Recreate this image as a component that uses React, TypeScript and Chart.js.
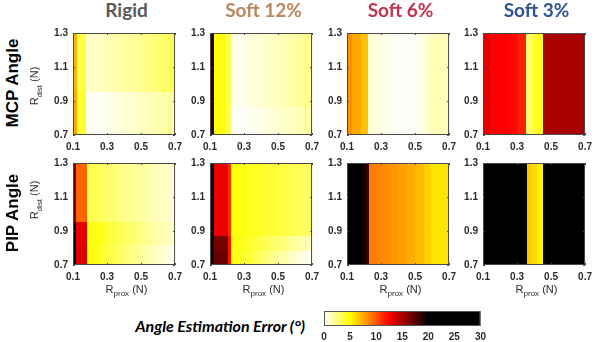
import React, { useEffect, useRef } from "react";
import { Chart, registerables } from "chart.js";

Chart.register(...registerables);

// ---------------- DATA ----------------
const panelTitles = ["Rigid", "Soft 12%", "Soft 6%", "Soft 3%"];
const titleColors = ["#595959", "#b8875b", "#c1334f", "#2f5597"];
const rowLabels = ["MCP Angle", "PIP Angle"];
const xTickValues = [0.1, 0.3, 0.5, 0.7];
const yTickValues = [0.7, 0.9, 1.1, 1.3];
const colorbarTicks = [0, 5, 10, 15, 20, 25, 30];

// Column edges (R_prox, N), row edges (R_dist, N), error values (deg) per cell [row][col]
const rigidMcpX = [0.1, 0.121, 0.178, 0.25, 0.3, 0.35, 0.4, 0.45, 0.5, 0.55, 0.6, 0.65, 0.7];
const rigidMcpY = [0.7, 0.955, 1.3];
const rigidMcpZ = [
  [7.5, 4.1, 0.1, 0.3, 0.5, 0.7, 0.9, 1.1, 1.3, 1.5, 1.7, 1.9],
  [7.2, 3.6, 1.1, 1.3, 1.5, 1.7, 1.9, 2.1, 2.3, 2.6, 2.9, 3.2],
];

const soft12McpX = [0.1, 0.121, 0.19, 0.222, 0.25, 0.3, 0.35, 0.4, 0.45, 0.5, 0.55, 0.6, 0.65, 0.7];
const soft12McpY = [0.7, 0.866, 1.3];
const soft12McpZ = [
  [18.5, 4.8, 3.6, 0.0, 0.1, 0.2, 0.4, 0.6, 0.8, 1.0, 1.2, 1.5, 1.8],
  [18.5, 4.8, 3.6, 0.3, 0.4, 0.6, 0.8, 1.0, 1.2, 1.4, 1.7, 1.9, 2.3],
];

const soft6McpX = [0.1, 0.13, 0.18, 0.222, 0.25, 0.3, 0.35, 0.4, 0.45, 0.5, 0.55, 0.583, 0.7];
const soft6McpY = [0.7, 1.3];
const soft6McpZ = [[8.3, 7.6, 6.8, 0.8, 0.6, 0.4, 0.2, 0.1, 0.1, 0.4, 0.9, 1.4, 17.8]];

const soft3McpX = [0.1, 0.14, 0.2, 0.25, 0.3, 0.353, 0.4, 0.451, 0.7];
const soft3McpY = [0.7, 1.3];
const soft3McpZ = [[13.3, 12.6, 12.5, 12.3, 11.6, 3.0, 4.4, 15.0]];

const rigidPipX = [0.1, 0.12, 0.18, 0.25, 0.3, 0.35, 0.4, 0.45, 0.5, 0.55, 0.6, 0.65, 0.7];
const rigidPipY = [0.7, 0.82, 0.951, 1.3];
const rigidPipZ = [
  [22, 13.5, 4.6, 4.1, 3.6, 3.1, 2.6, 2.2, 1.7, 1.3, 0.9, 0.4],
  [22, 13.2, 4.7, 4.3, 3.8, 3.4, 3.0, 2.6, 2.2, 1.9, 1.6, 1.2],
  [16.3, 9.5, 3.4, 3.1, 2.8, 2.5, 2.2, 2.0, 1.8, 1.5, 1.2, 0.9],
];

const soft12PipX = [0.1, 0.124, 0.207, 0.222, 0.25, 0.3, 0.35, 0.4, 0.45, 0.5, 0.55, 0.6, 0.65, 0.7];
const soft12PipY = [0.7, 0.78, 0.871, 1.3];
const soft12PipZ = [
  [19.5, 17.0, 12.0, 4.8, 4.4, 3.9, 3.3, 2.8, 2.2, 1.7, 1.2, 0.7, 0.3],
  [19.5, 16.5, 12.0, 4.9, 4.6, 4.2, 3.8, 3.4, 3.0, 2.6, 2.2, 1.8, 1.5],
  [21, 13.0, 11.0, 4.9, 4.7, 4.5, 4.3, 4.1, 3.9, 3.7, 3.5, 3.3, 3.1],
];

const soft6PipX = [0.1, 0.188, 0.21, 0.229, 0.25, 0.3, 0.35, 0.4, 0.45, 0.5, 0.55, 0.593, 0.7];
const soft6PipY = [0.7, 1.3];
const soft6PipZ = [[22, 19.5, 18.5, 8.9, 8.7, 8.4, 8.1, 7.8, 7.4, 7.0, 6.4, 5.8, 22]];

const soft3PipX = [0.1, 0.356, 0.38, 0.42, 0.455, 0.7];
const soft3PipY = [0.7, 1.3];
const soft3PipZ = [[22, 6.7, 6.0, 5.4, 22]];

type PanelDef = { xe: number[]; ye: number[]; z: number[][] };
const panels: PanelDef[][] = [
  [
    { xe: rigidMcpX, ye: rigidMcpY, z: rigidMcpZ },
    { xe: soft12McpX, ye: soft12McpY, z: soft12McpZ },
    { xe: soft6McpX, ye: soft6McpY, z: soft6McpZ },
    { xe: soft3McpX, ye: soft3McpY, z: soft3McpZ },
  ],
  [
    { xe: rigidPipX, ye: rigidPipY, z: rigidPipZ },
    { xe: soft12PipX, ye: soft12PipY, z: soft12PipZ },
    { xe: soft6PipX, ye: soft6PipY, z: soft6PipZ },
    { xe: soft3PipX, ye: soft3PipY, z: soft3PipZ },
  ],
];

// ---------------- STYLE ----------------
const COL_LEFT = [73, 210, 347, 483];
const ROW_TOP = [30, 160];
const PW = 107;
const PH = 105;
const PAD_L = 40;
const PAD_T = 8;
const PAD_R = 8;
const PAD_B = 22;
const CLIM = 20;

function hotR(v: number): string {
  const t = Math.max(0, Math.min(1, v / CLIM));
  const u = 1 - t;
  const r = Math.min(1, u / 0.375);
  const g = Math.min(1, Math.max(0, (u - 0.375) / 0.375));
  const b = Math.max(0, (u - 0.75) / 0.25);
  return `rgb(${Math.round(r * 255)},${Math.round(g * 255)},${Math.round(b * 255)})`;
}

const tickFont = { family: "'Liberation Sans', Arial, sans-serif", size: 10, weight: "bold" as const };
const tickColor = "#2b2b2b";

function HeatPanel({ def, left, top }: { def: PanelDef; left: number; top: number }) {
  const ref = useRef<HTMLCanvasElement | null>(null);
  useEffect(() => {
    if (!ref.current) return;
    const heat = {
      id: "heat",
      beforeDatasetsDraw(chart: any) {
        const { ctx, chartArea } = chart;
        const xs = chart.scales.x;
        const ys = chart.scales.y;
        ctx.save();
        for (let j = 0; j < def.z.length; j++) {
          const yTop = Math.round(ys.getPixelForValue(def.ye[j + 1]));
          const yBot = Math.round(ys.getPixelForValue(def.ye[j]));
          for (let i = 0; i < def.z[j].length; i++) {
            const x0 = Math.round(xs.getPixelForValue(def.xe[i]));
            const x1 = Math.round(xs.getPixelForValue(def.xe[i + 1]));
            ctx.fillStyle = hotR(def.z[j][i]);
            ctx.fillRect(x0, yTop, x1 - x0, yBot - yTop);
          }
        }
        // frame
        ctx.strokeStyle = "#4a4a4a";
        ctx.lineWidth = 1;
        ctx.strokeRect(chartArea.left + 0.5, chartArea.top + 0.5, chartArea.width - 1, chartArea.height - 1);
        // inner tick marks
        ctx.beginPath();
        for (const v of xTickValues) {
          const px = Math.round(xs.getPixelForValue(v)) + 0.5;
          ctx.moveTo(px, chartArea.bottom);
          ctx.lineTo(px, chartArea.bottom - 2);
          ctx.moveTo(px, chartArea.top);
          ctx.lineTo(px, chartArea.top + 2);
        }
        for (const v of yTickValues) {
          const py = Math.round(ys.getPixelForValue(v)) + 0.5;
          ctx.moveTo(chartArea.left, py);
          ctx.lineTo(chartArea.left + 2, py);
          ctx.moveTo(chartArea.right, py);
          ctx.lineTo(chartArea.right - 2, py);
        }
        ctx.stroke();
        ctx.restore();
      },
    };
    const chart = new Chart(ref.current, {
      type: "scatter",
      data: { datasets: [{ data: [], pointRadius: 0 }] },
      options: {
        responsive: false,
        animation: false,
        events: [],
        layout: { padding: { left: 0, right: PAD_R, top: PAD_T, bottom: 0 } },
        plugins: { legend: { display: false }, tooltip: { enabled: false }, title: { display: false } },
        scales: {
          x: {
            type: "linear",
            min: 0.1,
            max: 0.7,
            grid: { display: false, drawTicks: false },
            border: { display: false },
            afterBuildTicks: (s: any) => {
              s.ticks = xTickValues.map((v) => ({ value: v }));
            },
            afterFit: (s: any) => {
              s.height = PAD_B;
            },
            ticks: {
              autoSkip: false,
              maxRotation: 0,
              padding: 6,
              font: tickFont,
              color: tickColor,
              callback: (v: any) => Number(v).toFixed(1),
            },
          },
          y: {
            type: "linear",
            min: 0.7,
            max: 1.3,
            grid: { display: false, drawTicks: false },
            border: { display: false },
            afterBuildTicks: (s: any) => {
              s.ticks = yTickValues.map((v) => ({ value: v }));
            },
            afterFit: (s: any) => {
              s.width = PAD_L;
            },
            ticks: {
              autoSkip: false,
              padding: 5,
              font: tickFont,
              color: tickColor,
              callback: (v: any) => Number(v).toFixed(1),
            },
          },
        },
      } as any,
      plugins: [heat],
    });
    return () => chart.destroy();
  }, [def]);
  const w = PAD_L + PW + PAD_R;
  const h = PAD_T + PH + PAD_B;
  return (
    <canvas
      ref={ref}
      width={w}
      height={h}
      style={{ position: "absolute", left: left - PAD_L, top: top - PAD_T, width: w, height: h }}
    />
  );
}

const CB_LEFT = 324;
const CB_TOP = 311;
const CB_W = 157;
const CB_H = 15;

function ColorBar() {
  const ref = useRef<HTMLCanvasElement | null>(null);
  useEffect(() => {
    if (!ref.current) return;
    const bar = {
      id: "cbar",
      beforeDatasetsDraw(chart: any) {
        const { ctx, chartArea } = chart;
        const xs = chart.scales.x;
        const x0 = xs.getPixelForValue(0);
        const x1 = xs.getPixelForValue(30);
        const grad = ctx.createLinearGradient(x0, 0, x1, 0);
        const stops: [number, string][] = [
          [0, hotR(0)],
          [2.5, hotR(2.5)],
          [5, hotR(5)],
          [8.75, hotR(8.75)],
          [12.5, hotR(12.5)],
          [16.25, hotR(16.25)],
          [20, hotR(20)],
          [30, hotR(30)],
        ];
        for (const [v, c] of stops) grad.addColorStop((xs.getPixelForValue(v) - x0) / (x1 - x0), c);
        ctx.save();
        ctx.fillStyle = grad;
        ctx.fillRect(chartArea.left, chartArea.top, chartArea.width, chartArea.height);
        ctx.strokeStyle = "#555";
        ctx.lineWidth = 1;
        ctx.strokeRect(chartArea.left + 0.5, chartArea.top + 0.5, chartArea.width - 1, chartArea.height - 1);
        ctx.restore();
      },
    };
    const chart = new Chart(ref.current, {
      type: "scatter",
      data: { datasets: [{ data: [], pointRadius: 0 }] },
      options: {
        responsive: false,
        animation: false,
        events: [],
        layout: { padding: { left: 10, right: 10, top: 2, bottom: 0 } },
        plugins: { legend: { display: false }, tooltip: { enabled: false } },
        scales: {
          x: {
            type: "linear",
            min: 0,
            max: 30,
            grid: { display: false, drawTicks: false },
            border: { display: false },
            afterBuildTicks: (s: any) => {
              s.ticks = colorbarTicks.map((v) => ({ value: v }));
            },
            afterFit: (s: any) => {
              s.height = 16;
            },
            ticks: { autoSkip: false, maxRotation: 0, padding: 5, font: tickFont, color: tickColor },
          },
          y: { display: false, min: 0, max: 1 },
        },
      } as any,
      plugins: [bar],
    });
    return () => chart.destroy();
  }, []);
  const w = CB_W + 20;
  const h = CB_H + 2 + 16;
  return (
    <canvas
      ref={ref}
      width={w}
      height={h}
      style={{ position: "absolute", left: CB_LEFT - 10, top: CB_TOP - 2, width: w, height: h }}
    />
  );
}

const labelFont = "'Liberation Sans', Arial, sans-serif";

export default function App() {
  return (
    <div
      style={{
        position: "fixed",
        left: 0,
        top: 0,
        width: 596,
        height: 342,
        overflow: "hidden",
        background: "#fff",
      }}
    >
      {panels.map((row, r) =>
        row.map((def, c) => <HeatPanel key={`${r}-${c}`} def={def} left={COL_LEFT[c]} top={ROW_TOP[r]} />)
      )}
      {panelTitles.map((t, c) => (
        <div
          key={t}
          style={{
            position: "absolute",
            left: COL_LEFT[c] + PW / 2,
            top: 0,
            transform: "translateX(-50%)",
            whiteSpace: "nowrap",
            font: "bold 19px Lato, sans-serif",
            lineHeight: "20px",
            color: titleColors[c],
          }}
        >
          {t}
        </div>
      ))}
      {rowLabels.map((t, r) => (
        <div
          key={t}
          style={{
            position: "absolute",
            left: 13,
            top: ROW_TOP[r] + PH / 2,
            transform: "translate(-50%, -50%) rotate(-90deg)",
            whiteSpace: "nowrap",
            font: `bold 17px ${labelFont}`,
            lineHeight: "18px",
            color: "#000",
          }}
        >
          {t}
        </div>
      ))}
      {ROW_TOP.map((tp, r) => (
        <div
          key={`yt${r}`}
          style={{
            position: "absolute",
            left: 37,
            top: r === 0 ? 86 : 200,
            transform: "translate(-50%, -50%) rotate(-90deg)",
            whiteSpace: "nowrap",
            font: `11px ${labelFont}`,
            lineHeight: "13px",
            color: "#2b2b2b",
          }}
        >
          R<sub style={{ fontSize: 8 }}>dist</sub> (N)
        </div>
      ))}
      {COL_LEFT.map((l, c) => (
        <div
          key={`xt${c}`}
          style={{
            position: "absolute",
            left: l + PW / 2,
            top: 283,
            transform: "translateX(-50%)",
            whiteSpace: "nowrap",
            font: `11px ${labelFont}`,
            lineHeight: "13px",
            color: "#2b2b2b",
          }}
        >
          R<sub style={{ fontSize: 8 }}>prox</sub> (N)
        </div>
      ))}
      <div
        style={{
          position: "absolute",
          right: 596 - 305,
          top: 317,
          whiteSpace: "nowrap",
          font: "italic bold 16px Lato, sans-serif",
          lineHeight: "18px",
          color: "#000",
        }}
      >
        Angle Estimation Error (°)
      </div>
      <ColorBar />
    </div>
  );
}
